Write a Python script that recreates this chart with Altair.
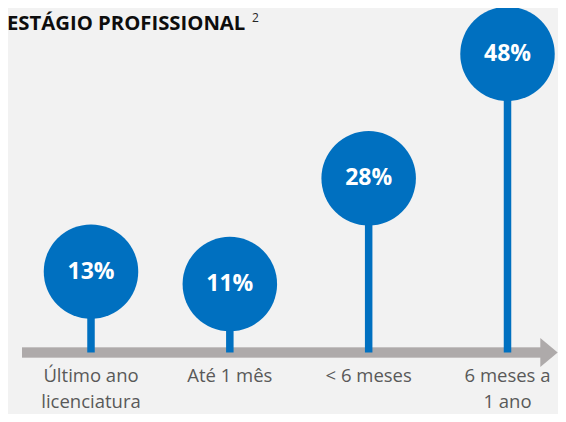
import altair as alt
import pandas as pd

# ---- data ----
categories = ["Último ano\nlicenciatura", "Até 1 mês", "< 6 meses", "6 meses a\n1 ano"]
values = [13, 11, 28, 48]
value_labels = ["13%", "11%", "28%", "48%"]
title_text = ["ESTÁGIO PROFISSIONAL"]
title_note = ["2"]

BLUE = "#0070C0"
GRAY = "#AEAAAA"
LABEL = "#595959"
BG = "#F2F2F2"
FONT = "Open Sans"

df = pd.DataFrame({"cat": categories, "value": values, "label": value_labels,
                   "zero": [0] * len(values)})

xenc = alt.X("cat:N", sort=categories, axis=None,
             scale=alt.Scale(type="point", range=[83, 499.5], padding=0))
yscale = alt.Scale(domain=[-9.89, 55.39], nice=False, zero=False)

base = alt.Chart(df)

axis_line = base.mark_rule(color=GRAY, strokeWidth=9.5).encode(
    x=alt.value(14), x2=alt.value(534),
    y=alt.Y(datum=0, type="quantitative", scale=yscale, axis=None))

arrow_head = alt.Chart(pd.DataFrame({"a": [0]})).mark_point(
    shape="M-0.6,-1L0.6,0L-0.6,1Z", filled=True, size=841, color=GRAY,
    opacity=1, strokeWidth=0).encode(
    x=alt.value(541), y=alt.Y("a:Q", scale=yscale, axis=None))

stems = base.mark_rule(color=BLUE, strokeWidth=7.5).encode(
    x=xenc, y=alt.Y("zero:Q", scale=yscale, axis=None), y2="value:Q")

circles = base.mark_circle(size=8930, opacity=1, color=BLUE).encode(
    x=xenc, y=alt.Y("value:Q", scale=yscale, axis=None))

pct = base.mark_text(color="white", font=FONT, fontWeight="bold", fontSize=23,
                     baseline="middle", dy=0).encode(
    x=xenc, y=alt.Y("value:Q", scale=yscale, axis=None), text="label:N")

cat_labels = base.mark_text(color=LABEL, font=FONT, fontSize=18.5,
                            baseline="alphabetic", lineBreak="\n",
                            lineHeight=25.5).encode(
    x=xenc, y=alt.value(374), text="cat:N")

title = alt.Chart(pd.DataFrame({"t": title_text})).mark_text(
    font=FONT, fontWeight="bold", fontSize=20.3, color="#0D0D0D",
    align="left", baseline="alphabetic").encode(
    x=alt.value(-1), y=alt.value(22), text="t:N")

note = alt.Chart(pd.DataFrame({"t": title_note})).mark_text(
    font=FONT, fontSize=12, color="#262626",
    align="left", baseline="alphabetic").encode(
    x=alt.value(244), y=alt.value(13.5), text="t:N")

chart = alt.layer(axis_line, arrow_head, stems, circles, pct, cat_labels,
                  title, note).properties(
    width=550, height=406, padding=0,
    autosize=alt.AutoSizeParams(type="none"),
    background=BG,
).configure_view(stroke=None)

chart.save("out.html", embed_options={"renderer": "svg", "actions": False})
